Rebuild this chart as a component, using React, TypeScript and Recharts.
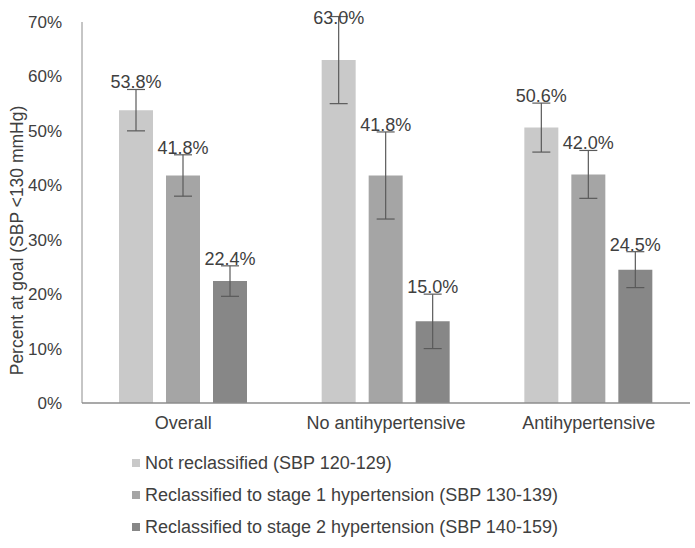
import React from 'react'
import { BarChart, Bar, XAxis, YAxis, ErrorBar, Legend, LabelList } from 'recharts'

const groups = ['Overall', 'No antihypertensive', 'Antihypertensive']
const notReclassified = [53.8, 63.0, 50.6]
const notReclassifiedErr = [3.8, 8.0, 4.5]
const stage1 = [41.8, 41.8, 42.0]
const stage1Err = [3.8, 8.0, 4.4]
const stage2 = [22.4, 15.0, 24.5]
const stage2Err = [2.8, 5.0, 3.3]
const yTicks = [0, 10, 20, 30, 40, 50, 60, 70]

const seriesNames = [
  'Not reclassified (SBP 120-129)',
  'Reclassified to stage 1 hypertension (SBP 130-139)',
  'Reclassified to stage 2 hypertension (SBP 140-159)',
]
const colors = ['#c9c9c9', '#a5a5a5', '#878787']

const data = groups.map((g, i) => ({
  group: g,
  s0: notReclassified[i],
  e0: notReclassifiedErr[i],
  s1: stage1[i],
  e1: stage1Err[i],
  s2: stage2[i],
  e2: stage2Err[i],
}))

const errs = [notReclassifiedErr, stage1Err, stage2Err]
const FONT = 'Liberation Sans, Arial, sans-serif'
const TEXT = '#404040'

function makeLabel(series: number) {
  return (props: any) => {
    const { x, y, width, height, value, index } = props
    const perUnit = height / value
    const top = Math.max(y - errs[series][index] * perUnit, 25)
    return (
      <text
        x={x + width / 2}
        y={top - 1}
        textAnchor="middle"
        fontSize={18}
        fontFamily={FONT}
        fill={TEXT}
      >
        {value.toFixed(1)}%
      </text>
    )
  }
}

function LegendBox() {
  return (
    <div style={{ fontFamily: FONT, fontSize: 18, color: TEXT }}>
      {seriesNames.map((n, i) => (
        <div key={n} style={{ display: 'flex', alignItems: 'center', height: 32 }}>
          <span style={{ width: 8, height: 8, background: colors[i], marginRight: 5, display: 'inline-block' }} />
          {n}
        </div>
      ))}
    </div>
  )
}

export default function App() {
  return (
    <div style={{ position: 'absolute', left: 0, top: 0 }}>
      <BarChart
        width={695}
        height={548}
        data={data}
        margin={{ top: 22, right: 5, left: 0, bottom: 5 }}
        barSize={34}
        barGap={13}
      >
        <XAxis
          dataKey="group"
          axisLine={{ stroke: '#8c8c8c', strokeWidth: 1.5 }}
          tickLine={false}
          height={44}
          tick={{ fontSize: 18, fill: TEXT, fontFamily: FONT, dy: 5 }}
        />
        <YAxis
          domain={[0, 70]}
          ticks={yTicks}
          allowDataOverflow
          width={82}
          axisLine={{ stroke: '#8c8c8c' }}
          tickLine={false}
          tickFormatter={(v: number) => `${v}%`}
          tick={{ fontSize: 17, fill: TEXT, fontFamily: FONT, dx: -12 }}
          label={{
            value: 'Percent at goal (SBP <130 mmHg)',
            angle: -90,
            position: 'insideLeft',
            dx: 12,
            dy: 28,
            style: { textAnchor: 'middle', fontSize: 17.5, fill: TEXT, fontFamily: FONT },
          }}
        />
        <Legend
          verticalAlign="bottom"
          align="left"
          content={<LegendBox />}
          wrapperStyle={{ left: 132 }}
        />
        {[0, 1, 2].map((i) => (
          <Bar
            key={i}
            dataKey={`s${i}`}
            name={seriesNames[i]}
            fill={colors[i]}
            isAnimationActive={false}
          >
            <ErrorBar dataKey={`e${i}`} stroke="#5a5a5a" strokeWidth={1.2} width={9} />
            <LabelList dataKey={`s${i}`} content={makeLabel(i)} />
          </Bar>
        ))}
      </BarChart>
    </div>
  )
}
